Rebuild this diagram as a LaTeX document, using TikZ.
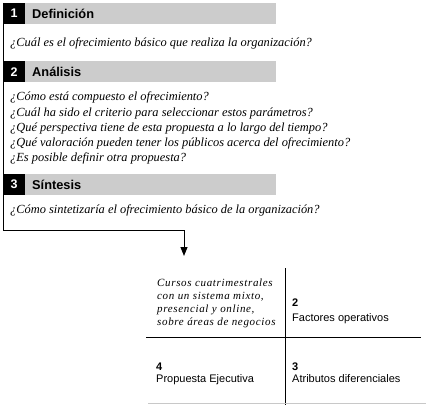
\documentclass[tikz,border=0pt]{standalone}
\usepackage{fontspec}
\setmainfont{Liberation Serif}
\setsansfont{Liberation Sans}
\usetikzlibrary{arrows.meta}
\definecolor{hdrgray}{HTML}{CCCCCC}
\definecolor{linegray}{HTML}{C8C8C8}
\begin{document}
\begin{tikzpicture}[x=1pt,y=-1pt,
  hdrnum/.style={fill=black,text=white,font=\sffamily\bfseries\fontsize{12.5}{14}\selectfont,
    minimum width=22pt,minimum height=21pt,inner sep=0pt,anchor=north west},
  hdrbar/.style={fill=hdrgray,font=\sffamily\bfseries\fontsize{12.8}{14}\selectfont,
    minimum height=21pt,text width=251pt,inner xsep=0pt,inner ysep=0pt,align=left,anchor=north west},
  qtext/.style={font=\itshape\fontsize{12.4}{14}\selectfont,inner sep=0pt,anchor=base west},
  qtitle/.style={font=\itshape\fontsize{11}{13}\selectfont\addfontfeatures{LetterSpace=6},inner sep=0pt,anchor=base west},
  qlabel/.style={font=\sffamily\fontsize{11}{13}\selectfont,inner sep=0pt,anchor=base west},
  qnum/.style={font=\sffamily\bfseries\fontsize{11}{13}\selectfont,inner sep=0pt,anchor=base west},
  conn/.style={line width=1pt},
  grid/.style={line width=1pt},
  tiparrow/.style={-{Triangle[width=7pt,length=9pt]}},
]
\useasboundingbox (0,0) rectangle (426,409);

% headers
\node[hdrnum] (n1) at (3,3) {1};
\node[hdrbar] (h1) at (25,3) {\hspace*{7pt}Definición};
\node[hdrnum] (n2) at (3,61) {2};
\node[hdrbar] (h2) at (25,61) {\hspace*{7pt}Análisis};
\node[hdrnum] (n3) at (3,174) {3};
\node[hdrbar] (h3) at (25,174) {\hspace*{7pt}Síntesis};

% questions
\node[qtext] (q1) at (10,47) {¿Cuál es el ofrecimiento básico que realiza la organización?};
\node[qtext] (a1) at (10,101) {¿Cómo está compuesto el ofrecimiento?};
\node[qtext] (a2) at (10,116.5) {¿Cuál ha sido el criterio para seleccionar estos parámetros?};
\node[qtext] (a3) at (10,131.5) {¿Qué perspectiva tiene de esta propuesta a lo largo del tiempo?};
\node[qtext] (a4) at (10,146.5) {¿Qué valoración pueden tener los públicos acerca del ofrecimiento?};
\node[qtext] (a5) at (10,162) {¿Es posible definir otra propuesta?};
\node[qtext] (s1) at (10,214) {¿Cómo sintetizaría el ofrecimiento básico de la organización?};

% connector
\coordinate (c1) at (3.5,230);
\coordinate (c2) at (184,230);
\coordinate (tip) at (184,256);
\draw[conn,tiparrow] (n1.north west -| c1) -- (c1) -- (c2) -- (tip);

% quadrant grid
\coordinate (vt) at (285.5,268);
\coordinate (vb) at (285.5,405);
\coordinate (hl) at (146,337);
\coordinate (hr) at (421,337);
\coordinate (gl) at (148,403);
\coordinate (gr) at (426,403);
\draw[grid] (vt) -- (vb);
\draw[grid] (hl) -- (hr);
\draw[linegray,line width=1pt] (gl) -- (gr);

% quadrant texts
\node[qtitle] (t1) at (157,286) {Cursos cuatrimestrales};
\node[qtitle] (t2) at (157,299) {con un sistema mixto,};
\node[qtitle] (t3) at (157,312) {presencial y online,};
\node[qtitle] (t4) at (157,325) {sobre áreas de negocios};

\node[qnum] (k2) at (292,306) {2};
\node[qlabel] (l2) at (292,321) {Factores operativos};
\node[qnum] (k4) at (156,370) {4};
\node[qlabel] (l4) at (156,382) {Propuesta Ejecutiva};
\node[qnum] (k3) at (292,370) {3};
\node[qlabel] (l3) at (292,382) {Atributos diferenciales};
\end{tikzpicture}
\end{document}
